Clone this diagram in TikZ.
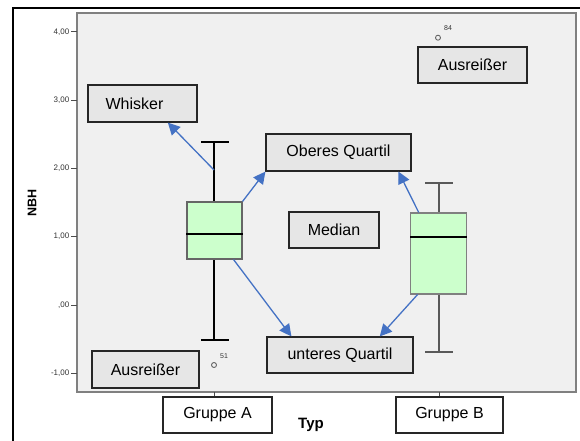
\documentclass[tikz,border=0pt]{standalone}
\usepackage{fontspec}
\setmainfont{Liberation Sans}
\usetikzlibrary{arrows.meta,calc}
\definecolor{plotbg}{HTML}{F0F0F0}
\definecolor{labbg}{HTML}{E6E6E6}
\definecolor{boxgreen}{HTML}{CCFFCC}
\definecolor{arrowblue}{HTML}{4472C4}
\definecolor{ticktext}{HTML}{333333}
\begin{document}
\begin{tikzpicture}[x=1pt,y=-1pt,
  labelbox/.style={draw=black!85,line width=1.2pt,fill=labbg,inner sep=0pt,
    font=\fontsize{16}{19}\selectfont},
  groupbox/.style={draw=black!85,line width=1.2pt,fill=white,inner sep=0pt,
    font=\fontsize{16}{19}\selectfont},
  bpbox/.style={draw=#1,line width=1.1pt,fill=boxgreen,inner sep=0pt},
  pointer/.style={draw=arrowblue,line width=1.3pt,-{Triangle[length=12pt,width=12pt]}},
  ticklab/.style={anchor=east,inner sep=0pt,text=ticktext,font=\fontsize{8}{9}\selectfont},
  outlier/.style={draw=black!60,line width=0.9pt,fill=none},
  smalllab/.style={inner sep=0pt,text=ticktext,font=\fontsize{7}{8}\selectfont}]
\useasboundingbox (0,0) rectangle (580,441);
% outer frame
\draw[line width=1.5pt] (13,441) -- (13,8) -- (580,8);
% plot area
\node[draw=black!50,line width=1.2pt,fill=plotbg,minimum width=499pt,minimum height=379pt,inner sep=0pt] (plot) at (326.5,202.5) {};
% y ticks
\foreach \v/\t in {4/{4,00},3/{3,00},2/{2,00},1/{1,00},0/{,00},-1/{-1,00}}{
  \draw[black!70,line width=0.8pt] (71,305-68.3*\v) -- (77,305-68.3*\v);
  \node[ticklab] at (69.5,305-68.3*\v) {\t};
}
% x ticks
\draw[black!70,line width=0.8pt] (214,392) -- (214,397);
\draw[black!70,line width=0.8pt] (439,392) -- (439,397);
% axis titles
\node[rotate=90,font=\bfseries\fontsize{12.5}{14}\selectfont] (nbh) at (32,203) {NBH};
\node[font=\bfseries\fontsize{15}{17}\selectfont] (typ) at (311,425) {Typ};
% group A boxplot
\draw[black,line width=1.5pt] (214,142) -- (214,202);
\draw[black,line width=1.5pt] (201,142) -- (229,142);
\draw[black,line width=1.5pt] (214,259) -- (214,340);
\draw[black,line width=1.5pt] (201,340) -- (229,340);
\node[bpbox=black!60,minimum width=55pt,minimum height=57pt] (boxA) at (214.5,230.5) {};
\draw[black,line width=2pt] (boxA.west |- 0,234) -- (boxA.east |- 0,234);
\draw[outlier] (214,365) circle (2.5pt);
\node[smalllab] (o51) at (224,356) {51};
% group B boxplot
\draw[black!65,line width=1.3pt] (439,183) -- (439,213);
\draw[black!65,line width=1.3pt] (425,183) -- (453,183);
\draw[black!65,line width=1.3pt] (439,294) -- (439,352);
\draw[black!65,line width=1.3pt] (425,352) -- (453,352);
\node[bpbox=black!50,minimum width=56pt,minimum height=81pt] (boxB) at (438.7,253.5) {};
\draw[black,line width=2pt] (boxB.west |- 0,237) -- (boxB.east |- 0,237);
\draw[outlier] (438,37.7) circle (2.5pt);
\node[smalllab] (o84) at (448,28) {84};
% label boxes
\node[labelbox,minimum width=109pt,minimum height=37pt,text depth=0pt] (whisker) at (142.5,103.5) {\hspace*{-16pt}Whisker};
\node[labelbox,minimum width=145pt,minimum height=37pt] (oq) at (338.5,152.5) {Oberes Quartil};
\node[labelbox,minimum width=109pt,minimum height=36pt] (ausTR) at (472.5,65) {Ausreißer};
\node[labelbox,minimum width=90pt,minimum height=36pt] (median) at (334,230) {Median};
\node[labelbox,minimum width=146pt,minimum height=36pt] (uq) at (340,355) {unteres Quartil};
\node[labelbox,minimum width=107pt,minimum height=37pt] (ausBL) at (145.5,369.5) {Ausreißer};
\node[groupbox,minimum width=109pt,minimum height=36pt] (ga) at (217.5,415) {Gruppe A};
\node[groupbox,minimum width=107pt,minimum height=36pt] (gb) at (449.5,415) {Gruppe B};
% arrow start/end points
\coordinate (wA) at (214,170);
\coordinate (boxAbot) at ($(boxA.south west)!0.84!(boxA.south east)$);
\coordinate (boxBtop) at ($(boxB.north west)!0.15!(boxB.north east)$);
\coordinate (boxBbot) at ($(boxB.south west)!0.13!(boxB.south east)$);
\coordinate (whiskerEnd) at ($(whisker.south west)!0.73!(whisker.south east)$);
\coordinate (oqEnd) at ($(oq.south west)!0.91!(oq.south east)$);
\coordinate (uqEndA) at ($(uq.north west)!0.17!(uq.north east)$);
\coordinate (uqEndB) at ($(uq.north west)!0.77!(uq.north east)$);
% arrows
\draw[pointer] (wA) -- (whiskerEnd);
\draw[pointer] (boxA.north east) -- (oq.south west);
\draw[pointer] (boxAbot) -- (uqEndA);
\draw[pointer] (boxBtop) -- (oqEnd);
\draw[pointer] (boxBbot) -- (uqEndB);
\end{tikzpicture}
\end{document}
